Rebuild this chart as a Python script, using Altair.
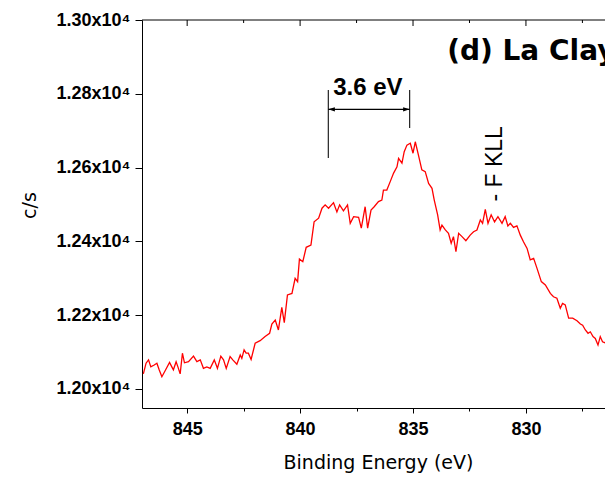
import altair as alt
import pandas as pd

# ---- spectrum ----
energy = [846.94, 846.82, 846.71, 846.61, 846.46, 846.34, 846.24, 846.12, 845.97, 845.78,
          845.68, 845.61, 845.49, 845.41, 845.31, 845.21, 845.12, 844.94, 844.72, 844.57,
          844.42, 844.28, 844.13, 843.98, 843.80, 843.66, 843.51, 843.39, 843.27, 843.10,
          842.98, 842.80, 842.65, 842.58, 842.48, 842.39, 842.29, 842.17, 841.99, 841.77,
          841.55, 841.35, 841.25, 841.10, 840.96, 840.81, 840.70, 840.56, 840.36, 840.22,
          840.11, 840.03, 839.88, 839.73, 839.52, 839.38, 839.18, 839.03, 838.89, 838.74,
          838.52, 838.37, 838.25, 838.08, 837.90, 837.78, 837.63, 837.41, 837.29, 837.12,
          837.01, 836.86, 836.72, 836.53, 836.38, 836.31, 836.16, 836.01, 835.86, 835.71,
          835.64, 835.49, 835.39, 835.27, 835.12, 835.00, 834.90, 834.76, 834.61, 834.46,
          834.31, 834.16, 834.06, 833.91, 833.80, 833.72, 833.57, 833.43, 833.31, 833.21,
          833.10, 832.98, 832.83, 832.66, 832.47, 832.32, 832.17, 832.02, 831.92, 831.80,
          831.68, 831.54, 831.39, 831.24, 831.06, 830.92, 830.80, 830.69, 830.55, 830.40,
          830.25, 830.11, 829.95, 829.81, 829.66, 829.51, 829.32, 829.14, 828.92, 828.78,
          828.63, 828.48, 828.38, 828.26, 828.11, 827.93, 827.74, 827.59, 827.49, 827.37,
          827.25, 827.15, 827.03, 826.93, 826.81, 826.71, 826.61, 826.49, 826.40]
counts = [12041, 12070, 12079, 12060, 12065, 12070, 12052, 12033, 12050, 12072,
          12060, 12052, 12074, 12060, 12041, 12097, 12071, 12074, 12089, 12074,
          12079, 12056, 12060, 12056, 12079, 12056, 12089, 12079, 12056, 12088,
          12079, 12067, 12092, 12083, 12106, 12097, 12097, 12080, 12124, 12131,
          12142, 12151, 12176, 12187, 12160, 12221, 12180, 12255, 12259, 12300,
          12291, 12352, 12345, 12384, 12390, 12453, 12463, 12490, 12499, 12490,
          12505, 12480, 12499, 12483, 12499, 12449, 12467, 12465, 12436, 12494,
          12436, 12485, 12494, 12508, 12512, 12539, 12539, 12562, 12585, 12602,
          12625, 12612, 12643, 12661, 12666, 12639, 12670, 12634, 12594, 12589,
          12557, 12544, 12512, 12472, 12431, 12444, 12431, 12422, 12395, 12413,
          12372, 12422, 12413, 12402, 12417, 12426, 12431, 12458, 12449, 12487,
          12449, 12472, 12453, 12467, 12449, 12467, 12442, 12449, 12438, 12442,
          12417, 12399, 12381, 12350, 12354, 12327, 12291, 12282, 12259, 12250,
          12246, 12219, 12232, 12228, 12192, 12192, 12185, 12176, 12173, 12160,
          12151, 12155, 12142, 12137, 12119, 12142, 12128, 12125, 12122]

# ---- axes ----
x_domain = [826.5, 847.0]
y_domain = [11948.5, 13000.0]
x_tick_values = [845, 842.5, 840, 837.5, 835, 832.5, 830, 827.5]
x_major_ticks = [845, 840, 835, 830]
x_minor_ticks = [842.5, 837.5, 832.5, 827.5]
y_tick_values = [12000, 12100, 12200, 12300, 12400, 12500, 12600, 12700, 12800, 12900, 13000]

# ---- annotations ----
bracket_x = [838.75, 835.15]
bracket_top = [12810, 12810]
bracket_bottom = [12626, 12707]
arrow_y = [12758, 12758]
arrow_label = ["3.6 eV"]
arrow_label_pos = [837.0, 12797]
fkll_label = ["- F KLL"]
fkll_pos = [831.05, 12610]
panel_title = ["(d) La Clay"]
panel_title_pos = [833.49, 12892]

W, H = 463, 388

df = pd.DataFrame({"E": energy, "cps": counts})

xs = alt.Scale(domain=x_domain, reverse=True, nice=False, zero=False)
ys = alt.Scale(domain=y_domain, nice=False, zero=False)

line = alt.Chart(df).mark_line(color="#ff0000", strokeWidth=1.3, clip=True).encode(
    x=alt.X("E:Q", scale=xs,
            axis=alt.Axis(values=x_tick_values, title="Binding Energy (eV)",
                          labelExpr="datum.value % 5 == 0 ? format(datum.value, 'd') : ''",
                          labelFont="Liberation Sans", labelFontSize=18, labelFontWeight="bold",
                          labelColor="black", labelPadding=7, labelOverlap=False, labelFlush=False,
                          tickSize={"condition": {"test": "datum.value % 5 == 0", "value": 5}, "value": 3},
                          tickColor="black", domainColor="black", domainWidth=1, grid=False,
                          titleFont="DejaVu Sans", titleFontSize=19, titleFontWeight="normal",
                          titleColor="black", titleX=236, titleY=60, titleAlign="center",
                          titleBaseline="alphabetic")),
    y=alt.Y("cps:Q", scale=ys,
            axis=alt.Axis(values=y_tick_values, title="c/s",
                          labelExpr="datum.value % 200 == 0 ? format(datum.value/10000, '.2f') + 'x10⁴' : ''",
                          labelFont="Liberation Sans", labelFontSize=18, labelFontWeight="bold",
                          labelColor="black", labelPadding=5, labelOverlap=False, labelFlush=False,
                          tickSize={"condition": {"test": "datum.value % 200 == 0", "value": 7}, "value": 3},
                          tickColor="black", domainColor="black", domainWidth=1, grid=False,
                          titleFont="DejaVu Sans", titleFontSize=19, titleFontWeight="normal",
                          titleColor="black", titleX=-113, titleY=185, titleAngle=270,
                          titleAlign="center", titleBaseline="middle")),
)

# top frame line and inward ticks
top_line = alt.Chart(pd.DataFrame({"a": [0]})).mark_rule(color="black", strokeWidth=1).encode(
    x=alt.value(0), x2=alt.value(W), y=alt.value(0))
top_major = alt.Chart(pd.DataFrame({"t": x_major_ticks})).mark_rule(color="black").encode(
    x=alt.X("t:Q", scale=xs), y=alt.value(0), y2=alt.value(6))
top_minor = alt.Chart(pd.DataFrame({"t": x_minor_ticks})).mark_rule(color="black").encode(
    x=alt.X("t:Q", scale=xs), y=alt.value(0), y2=alt.value(3))

# bracket
br = pd.DataFrame({"x": bracket_x, "y1": bracket_bottom, "y2": bracket_top})
bracket = alt.Chart(br).mark_rule(color="#222222", strokeWidth=1.2).encode(
    x=alt.X("x:Q", scale=xs), y=alt.Y("y1:Q", scale=ys), y2="y2:Q")
hline = alt.Chart(pd.DataFrame({"x1": [bracket_x[0]], "x2": [bracket_x[1]], "y": [arrow_y[0]]})).mark_rule(
    color="black", strokeWidth=1.2).encode(
    x=alt.X("x1:Q", scale=xs), x2="x2:Q", y=alt.Y("y:Q", scale=ys))
arrow_left = alt.Chart(pd.DataFrame({"x": [bracket_x[0]], "y": [arrow_y[0]]})).mark_point(
    shape="M0,0L1,-0.32L1,0.32Z", filled=True, color="black", opacity=1, size=170).encode(
    x=alt.X("x:Q", scale=xs), y=alt.Y("y:Q", scale=ys))
arrow_right = alt.Chart(pd.DataFrame({"x": [bracket_x[1]], "y": [arrow_y[0]]})).mark_point(
    shape="M0,0L-1,-0.32L-1,0.32Z", filled=True, color="black", opacity=1, size=170).encode(
    x=alt.X("x:Q", scale=xs), y=alt.Y("y:Q", scale=ys))

lab36 = alt.Chart(pd.DataFrame({"x": [arrow_label_pos[0]], "y": [arrow_label_pos[1]], "t": arrow_label})).mark_text(
    font="Liberation Sans", fontSize=24, fontWeight="bold", color="black",
    align="center", baseline="alphabetic").encode(
    x=alt.X("x:Q", scale=xs), y=alt.Y("y:Q", scale=ys), text="t:N")

fkll = alt.Chart(pd.DataFrame({"x": [fkll_pos[0]], "y": [fkll_pos[1]], "t": fkll_label})).mark_text(
    font="Liberation Sans", fontSize=23, color="black", angle=270,
    align="center", baseline="alphabetic").encode(
    x=alt.X("x:Q", scale=xs), y=alt.Y("y:Q", scale=ys), text="t:N")

ptitle = alt.Chart(pd.DataFrame({"x": [panel_title_pos[0]], "y": [panel_title_pos[1]], "t": panel_title})).mark_text(
    font="DejaVu Sans", fontSize=28, fontWeight="bold", color="black",
    align="left", baseline="alphabetic").encode(
    x=alt.X("x:Q", scale=xs), y=alt.Y("y:Q", scale=ys), text="t:N")

chart = alt.layer(line, top_line, top_major, top_minor, bracket, hline, arrow_left, arrow_right,
                  lab36, fkll, ptitle).properties(
    width=W, height=H,
    autosize=alt.AutoSizeParams(type="none"),
    padding={"left": 142, "top": 20, "right": 0, "bottom": 69},
    background="white",
).configure_view(stroke=None)

chart.save("out.html", embed_options={"renderer": "svg", "actions": False})
